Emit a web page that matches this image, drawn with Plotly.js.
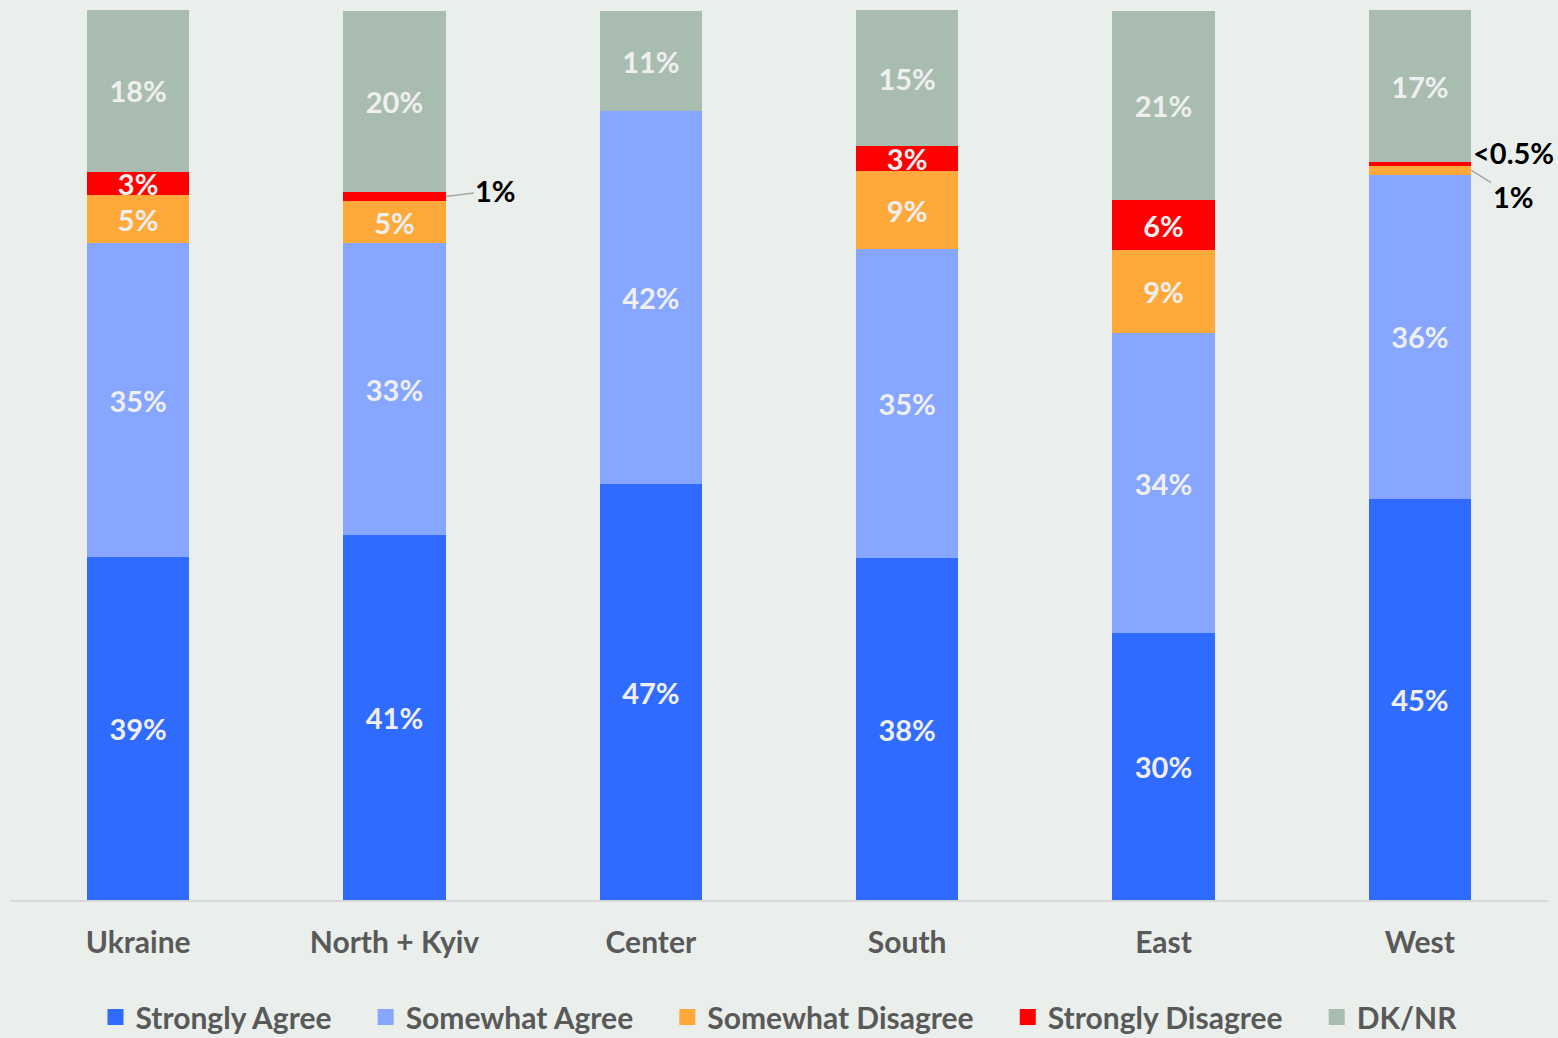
<!DOCTYPE html>
<html>
<head>
<meta charset="utf-8">
<script src="https://cdn.plot.ly/plotly-3.0.1.min.js"></script>
<style>
  html, body { margin: 0; padding: 0; background: #EAEFEC; }
  #chart { width: 1558px; height: 1038px; }
</style>
</head>
<body>
<div id="chart"></div>
<script>
// ---- Data ----
const categories = ["Ukraine", "North + Kyiv", "Center", "South", "East", "West"];

const seriesNames = ["Strongly Agree", "Somewhat Agree", "Somewhat Disagree", "Strongly Disagree", "DK/NR"];

const stronglyAgree     = [38.5, 41.0, 46.7, 38.4, 30.0, 45.1];
const somewhatAgree     = [35.3, 32.8, 41.9, 34.7, 33.7, 36.4];
const somewhatDisagree  = [5.4, 4.7, 0, 8.8, 9.3, 1.0];
const stronglyDisagree  = [2.6, 1.1, 0, 2.8, 5.6, 0.45];
const dkNr              = [18.2, 20.3, 11.3, 15.3, 21.3, 17.0];

const labelsStronglyAgree    = ["39%", "41%", "47%", "38%", "30%", "45%"];
const labelsSomewhatAgree    = ["35%", "33%", "42%", "35%", "34%", "36%"];
const labelsSomewhatDisagree = ["5%", "5%", "", "9%", "9%", ""];
const labelsStronglyDisagree = ["3%", "", "", "3%", "6%", ""];
const labelsDkNr             = ["18%", "20%", "11%", "15%", "21%", "17%"];

const colors = ["#306BFF", "#86A6FF", "#FFA93A", "#FF0000", "#A8BDB0"];

// ---- Build traces ----
const values = [stronglyAgree, somewhatAgree, somewhatDisagree, stronglyDisagree, dkNr];
const labels = [labelsStronglyAgree, labelsSomewhatAgree, labelsSomewhatDisagree, labelsStronglyDisagree, labelsDkNr];

const FONT = "Lato, 'Open Sans', 'DejaVu Sans', sans-serif";
const PAD = "\u00a0\u00a0\u00a0\u00a0";

const traces = values.map((v, i) => ({
  type: "bar",
  name: seriesNames[i],
  legendgroup: seriesNames[i],
  showlegend: false,
  x: categories,
  y: v,
  text: labels[i],
  textposition: "inside",
  insidetextanchor: "middle",
  constraintext: "none",
  textangle: 0,
  textfont: { family: FONT, size: 29, color: "#EFEFEF", weight: "bold" },
  marker: { color: colors[i], line: { width: 0 } },
  hoverinfo: "skip"
}));

// legend entries with larger square swatches
seriesNames.forEach((n, i) => {
  traces.push({
    type: "scatter",
    mode: "markers",
    name: i < seriesNames.length - 1 ? n + PAD : n,
    legendgroup: n,
    x: [null], y: [null],
    marker: { symbol: "square", size: 17, color: colors[i] },
    hoverinfo: "skip"
  });
});

// ---- Outside labels for small segments ----
function cum(idx, upto) {
  let s = 0;
  for (let k = 0; k < upto; k++) s += values[k][idx];
  return s;
}
const northIdx = categories.indexOf("North + Kyiv");
const westIdx = categories.indexOf("West");
const halfBar = 0.2;

const annFont = { family: FONT, size: 29, color: "#000000", weight: "bold" };

const annotations = [
  {
    x: northIdx + halfBar, y: cum(northIdx, 3) + stronglyDisagree[northIdx] / 2,
    xref: "x", yref: "y",
    text: "1%", showarrow: true, arrowhead: 0, arrowwidth: 1.5, arrowcolor: "#A6A6A6",
    ax: 50, ay: -6, font: annFont
  },
  {
    x: westIdx + halfBar, y: cum(westIdx, 4),
    xref: "x", yref: "y",
    text: "<0.5%", showarrow: false, xanchor: "left", yanchor: "middle",
    xshift: 0, yshift: 9, font: annFont
  },
  {
    x: westIdx + halfBar, y: cum(westIdx, 2) + somewhatDisagree[westIdx] / 2,
    xref: "x", yref: "y",
    text: "1%", showarrow: true, arrowhead: 0, arrowwidth: 1.5, arrowcolor: "#A6A6A6",
    ax: 42, ay: 26, font: annFont
  }
];

const layout = {
  width: 1558,
  height: 1038,
  paper_bgcolor: "#EAEFEC",
  plot_bgcolor: "#EAEFEC",
  margin: { l: 10, r: 10, t: 10, b: 138, autoexpand: false },
  barmode: "stack",
  bargap: 0.6,
  showlegend: true,
  hovermode: false,
  legend: {
    orientation: "h",
    x: 0.5, xanchor: "center",
    y: -0.1315, yanchor: "middle",
    traceorder: "normal",
    itemsizing: "trace",
    font: { family: FONT, size: 30, color: "#595959", weight: "bold" },
    bgcolor: "rgba(0,0,0,0)",
    itemwidth: 30
  },
  xaxis: {
    type: "category",
    range: [-0.5, categories.length - 0.5],
    autorange: false,
    showline: true,
    linecolor: "#D9D9D9",
    linewidth: 1.5,
    ticks: "",
    showgrid: false,
    zeroline: false,
    tickfont: { family: FONT, size: 30, color: "#595959", weight: "bold" },
    ticklabelstandoff: 15
  },
  yaxis: {
    range: [0, 100],
    autorange: false,
    showticklabels: false,
    showgrid: false,
    zeroline: false,
    showline: false,
    ticks: ""
  },
  annotations: annotations
};

Plotly.newPlot("chart", traces, layout, { displayModeBar: false, staticPlot: true });
</script>
</body>
</html>
